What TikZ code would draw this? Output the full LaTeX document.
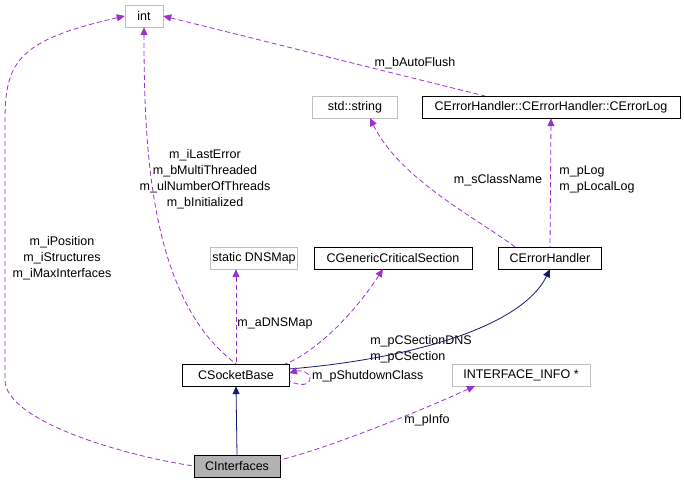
\documentclass[tikz,border=0pt]{standalone}
\usepackage{fontspec}
\setmainfont{Liberation Sans}
\usetikzlibrary{arrows.meta}
\definecolor{usecol}{HTML}{9A32CD}
\definecolor{inhcol}{HTML}{191970}
\begin{document}
\begin{tikzpicture}[x=1pt,y=-1pt,font=\fontsize{12.5}{16}\selectfont,
  box/.style={draw=black,minimum height=22pt,inner sep=2pt,anchor=center},
  gbox/.style={box,draw=gray!50},
  use/.style={draw=usecol,line width=0.8pt,dash pattern=on 5pt off 3pt,{Triangle[length=8pt,width=7pt]}-},
  inh/.style={draw=inhcol,line width=0.8pt,{Triangle[length=8pt,width=7pt]}-},
  lbl/.style={inner sep=0pt,align=center}]
\useasboundingbox (0,0) rectangle (684,485);
% classes
\node[gbox,minimum width=38pt] (int) at (144,16) {int};
\node[gbox,minimum width=85pt] (str) at (355,107) {std::string};
\node[box,minimum width=258pt] (log) at (551,107) {CErrorHandler::CErrorHandler::CErrorLog};
\node[gbox,minimum width=75pt] (dns) at (254,258) {static DNSMap};
\node[box,minimum width=158pt] (crit) at (393,258) {CGenericCriticalSection};
\node[box,minimum width=103pt] (err) at (550,258) {CErrorHandler};
\node[box,minimum width=107pt] (sock) at (236,375) {CSocketBase};
\node[gbox,minimum width=138pt] (info) at (521,375) {INTERFACE\_INFO *};
\node[box,fill=gray!60,minimum width=86pt] (ci) at (237,466) {CInterfaces};
% connectors
\draw[use] (int.west) .. controls (20,40) and (5,60) .. (5,120) -- (5,380)
  .. controls (5,420) and (120,455) .. (ci.west);
\node[lbl] at (62,258) {m\_iPosition\\m\_iStructures\\m\_iMaxInterfaces};
\draw[use] (int.south) .. controls (144,150) and (150,300) .. (sock.north);
\node[lbl] at (205,179) {m\_iLastError\\m\_bMultiThreaded\\m\_ulNumberOfThreads\\m\_bInitialized};
\draw[use] (int.east) -- (485,96);
\node[lbl] at (415,63) {m\_bAutoFlush};
\draw[use] (370,118) .. controls (400,180) and (480,220) .. (515,247);
\node[lbl] at (498,180) {m\_sClassName};
\draw[use] (log.south) -- (err.north);
\node[lbl,align=left] at (597,179) {m\_pLog\\m\_pLocalLog};
\draw[use] (dns.south -| sock.north) -- (sock.north);
\node[lbl] at (275,323) {m\_aDNSMap};
\draw[use] (383,269) .. controls (350,320) and (310,355) .. (285,364);
\node[lbl,align=left] at (421,349) {m\_pCSectionDNS\\m\_pCSection};
\draw[inh] (err.south) .. controls (520,330) and (400,360) .. (289,369);
\draw[use] (289,373) .. controls (300,370) and (310,372) .. (310,378)
  .. controls (310,386) and (300,386) .. (289,381);
\node[lbl,anchor=west] at (312,376) {m\_pShutdownClass};
\draw[use] (475,386) .. controls (400,420) and (320,450) .. (280,460);
\node[lbl] at (427,420) {m\_pInfo};
\draw[inh] (sock.south) -- (ci.north);
\end{tikzpicture}
\end{document}
